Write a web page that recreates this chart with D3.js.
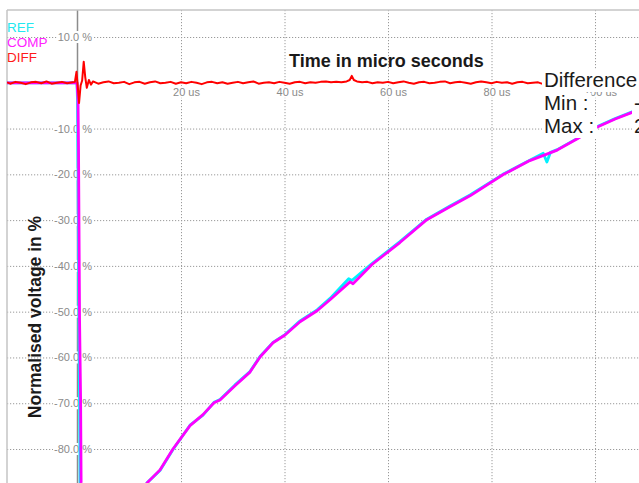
<!DOCTYPE html>
<html>
<head>
<meta charset="utf-8">
<script src="https://cdn.jsdelivr.net/npm/d3@7"></script>
<style>
  html, body { margin: 0; padding: 0; background: #fff; }
  svg { display: block; font-family: "Liberation Sans", Arial, sans-serif; }
</style>
</head>
<body>
<svg id="chart" width="639" height="483"></svg>
<script>
// ---------------- data ----------------
const xTicks = [20, 40, 60, 80, 100];
const xTickLabels = ["20 us", "40 us", "60 us", "80 us", "100 us"];
const yTicks = [10, -10, -20, -30, -40, -50, -60, -70, -80];
const yTickLabels = ["10.0 %", "-10.0 %", "-20.0 %", "-30.0 %", "-40.0 %", "-50.0 %", "-60.0 %", "-70.0 %", "-80.0 %"];

const seriesNames = ["REF", "COMP", "DIFF"];
const seriesColors = ["#22e8f0", "#ff22ff", "#ff1a1a"];

const compTime  = [-13.6, -0.1, 0.1, 0.2, 0.4, 0.6, 0.7, 1.5, 5, 10, 12.5, 13.43, 15.94, 18.45, 21.74, 24.25, 26.38, 27.54, 30.43, 33.33, 35.27, 37.78, 40.1, 43.0, 46.3, 48.8, 52.66, 53.24, 56.9, 62.3, 67.5, 71.97, 75.85, 82.2, 87.4, 92.7, 96.5, 99.6, 103.9, 107.3, 108.6];
const compValue = [0, 0, -3.7, -14.7, -51.9, -69.0, -87.4, -95, -100, -98, -90, -87.4, -84.6, -80.0, -74.9, -72.5, -69.9, -69.3, -66.2, -63.2, -59.9, -56.8, -55.1, -52.2, -49.8, -47.4, -43.5, -43.9, -39.7, -34.9, -29.9, -27.1, -24.7, -20.1, -17.0, -14.7, -12.3, -10.1, -7.9, -6.4, -5.8];

const refTime  = [-13.6, -0.1, 0.0, 0.1, 0.25, 0.4, 0.5, 1.5, 5, 10, 12.5, 13.43, 15.94, 18.45, 21.74, 24.25, 26.38, 27.54, 30.43, 33.33, 35.27, 37.78, 40.1, 43.0, 46.3, 48.8, 52.4, 53.0, 56.9, 62.3, 67.5, 71.97, 75.85, 82.2, 87.4, 90.0, 90.7, 91.4, 92.7, 96.5, 99.6, 103.9, 107.3, 108.6];
const refValue = [0, 0, -4.0, -20.0, -50.0, -70.0, -87.4, -95, -100, -98, -90, -87.4, -84.7, -80.1, -74.8, -72.6, -69.8, -69.2, -66.0, -63.1, -59.8, -56.7, -55.0, -52.0, -49.6, -47.1, -42.8, -43.2, -39.5, -34.7, -29.8, -26.9, -24.5, -20.0, -16.9, -15.4, -17.3, -15.2, -14.6, -12.2, -10.0, -7.8, -6.3, -5.7];

const diffTime = [-13.6, -13, -12, -11, -10, -9, -8, -7, -6, -5, -4, -3, -2, -1,
  -0.5, -0.2, 0.05, 0.3, 0.6, 0.9, 1.2, 1.5, 1.8, 2.2, 2.6, 3.0,
  4, 5, 6, 7, 8, 9, 10, 11, 12, 13, 14, 15, 16, 17, 18, 19, 20, 21, 22, 23, 24, 25, 26, 27, 28, 29,
  30, 31, 32, 33, 34, 35, 36, 37, 38, 39, 40, 41, 42, 43, 44, 45, 46, 47, 48, 49, 50, 51, 52,
  52.6, 53.0, 53.4, 54, 55, 56, 57, 58, 59, 60, 61, 62, 63, 64, 65, 66, 67, 68, 69, 70, 71, 72, 73, 74,
  75, 76, 77, 78, 79, 80, 81, 82, 83, 84, 85, 86, 87, 88, 89, 90, 91, 92, 93, 94, 95];
const diffValue = [0.1, -0.2, 0.2, 0.0, -0.3, 0.1, 0.2, -0.1, 0.3, -0.2, 0.0, 0.2, -0.1, 0.1,
  0.2, 2.4, -0.8, -4.4, -0.6, 0.5, 4.6, 1.2, -1.1, 0.6, -0.4, 0.3,
  -0.2, 0.1, 0.3, -0.1, 0.0, 0.2, -0.3, 0.1, 0.2, -0.2, 0.1, 0.3, -0.1, 0.0, 0.2, -0.2, 0.1, -0.1, 0.2, 0.0, -0.3, 0.1, 0.2, -0.1, 0.1, -0.2,
  0.0, 0.2, -0.1, 0.1, 0.3, -0.2, 0.0, 0.1, -0.1, 0.2, 0.0, -0.2, 0.1, 0.2, -0.1, 0.1, 0.0, 0.2, 0.3, 0.1, 0.2, 0.1, 0.3,
  0.6, 1.5, 0.6, 0.3, 0.1, 0.2, -0.1, 0.1, 0.0, 0.2, -0.1, 0.1, 0.3, 0.0, -0.2, 0.1, 0.2, -0.1, 0.0, 0.2, 0.3, -0.1, 0.1, 0.2,
  0.0, -0.2, 0.1, 0.3, 0.1, -0.1, 0.2, 0.0, 0.1, -0.2, 0.1, 0.2, -0.1, 0.0, 0.1, -0.3, 0.1, 0.0, 0.1, 0.0, 0.1];

const titleText = "Time in micro seconds";
const yTitleText = "Normalised voltage in %";
const boxLines = ["Difference", "Min :", "Max :"];
const boxValues = ["", "-4.4 %", "2.4 %"];

// ---------------- layout ----------------
const W = 639, H = 483;
const plotLeft = 7, plotTop = 10;
const svg = d3.select("#chart");
svg.append("rect").attr("width", W).attr("height", H).attr("fill", "#fff");

const x = d3.scaleLinear().domain([0, 100]).range([77.5, 595]);
const y = d3.scaleLinear().domain([10, -80]).range([37, 449]);

const FONT = '"Liberation Sans", Arial, sans-serif';

// horizontal dotted grid
const gy = svg.append("g").attr("transform", `translate(${plotLeft},0)`)
  .call(d3.axisLeft(y).tickValues(yTicks).tickSize(-(W - plotLeft)).tickFormat(""));
gy.select(".domain").remove();
gy.selectAll("line").attr("stroke", "#9a9a9a").attr("stroke-width", 1).attr("stroke-dasharray", "1.2,1.8");

// vertical dotted grid
const gx = svg.append("g").attr("transform", `translate(0,${plotTop})`)
  .call(d3.axisBottom(x).tickValues(xTicks).tickSize(H - plotTop).tickFormat(""));
gx.select(".domain").remove();
gx.selectAll("line").attr("stroke", "#9a9a9a").attr("stroke-width", 1).attr("stroke-dasharray", "1.2,1.8");

// y tick labels
const yl = svg.append("g").attr("transform", "translate(92,0)")
  .call(d3.axisLeft(y).tickValues(yTicks).tickSize(0).tickPadding(0)
    .tickFormat((d, i) => yTickLabels[i]));
yl.select(".domain").remove();
yl.selectAll("text").attr("font-size", 11).attr("font-family", FONT).attr("fill", "#8a8a8a");

// x tick labels
const xl = svg.append("g").attr("transform", "translate(0,88)")
  .call(d3.axisBottom(x).tickValues(xTicks).tickSize(0).tickPadding(0)
    .tickFormat((d, i) => xTickLabels[i]));
xl.select(".domain").remove();
xl.selectAll("text").attr("font-size", 11).attr("font-family", FONT).attr("fill", "#8a8a8a").attr("x", 5);

// white backgrounds behind tick labels
[yl, xl].forEach(g => {
  g.selectAll(".tick").each(function () {
    const t = d3.select(this).select("text");
    const b = t.node().getBBox();
    d3.select(this).insert("rect", "text")
      .attr("x", b.x - 1).attr("y", b.y).attr("width", b.width + 2).attr("height", b.height)
      .attr("fill", "#fff");
  });
});

// axis line
svg.append("line").attr("x1", x(0)).attr("x2", x(0)).attr("y1", plotTop).attr("y2", H)
  .attr("stroke", "#8c8c8c").attr("stroke-width", 1.5);
// border
svg.append("line").attr("x1", plotLeft).attr("x2", W).attr("y1", plotTop).attr("y2", plotTop)
  .attr("stroke", "#c4c4c4").attr("stroke-width", 1.5);
svg.append("line").attr("x1", plotLeft).attr("x2", plotLeft).attr("y1", plotTop).attr("y2", H)
  .attr("stroke", "#c4c4c4").attr("stroke-width", 1.5);

yl.raise(); xl.raise();

// data lines
const line = d3.line().x(d => x(d[0])).y(d => y(d[1]));
const clip = svg.append("clipPath").attr("id", "plotclip");
clip.append("rect").attr("x", plotLeft).attr("y", plotTop).attr("width", W - plotLeft).attr("height", H - plotTop);
const plot = svg.append("g").attr("clip-path", "url(#plotclip)");

plot.append("path").datum(refTime.map((t, i) => [t, refValue[i]]))
  .attr("d", line).attr("fill", "none").attr("stroke", "#00f0ff").attr("stroke-width", 2.8)
  .attr("stroke-linejoin", "round");
plot.append("path").datum(compTime.map((t, i) => [t, compValue[i]]))
  .attr("d", line).attr("fill", "none").attr("stroke", "#ff00ff").attr("stroke-width", 2.8)
  .attr("stroke-linejoin", "round");
plot.append("path").datum(diffTime.map((t, i) => [t, diffValue[i]]))
  .attr("d", line).attr("fill", "none").attr("stroke", "#ff0000").attr("stroke-width", 2)
  .attr("stroke-linejoin", "round");

// title
svg.append("text").attr("x", 289).attr("y", 67).attr("font-size", 18).attr("font-weight", "bold")
  .attr("font-family", FONT).attr("fill", "#1a1a1a").text(titleText);

// y title
svg.append("text").attr("transform", "translate(41,317) rotate(-90)")
  .attr("text-anchor", "middle").attr("font-size", 17.5).attr("font-weight", "bold")
  .attr("font-family", FONT).attr("fill", "#1a1a1a").text(yTitleText);

// legend
const legendY = [32, 47, 62];
seriesNames.forEach((n, i) => {
  svg.append("text").attr("x", 7).attr("y", legendY[i]).attr("font-size", 13.5)
    .attr("font-family", FONT).attr("fill", seriesColors[i]).text(n);
});

// difference box
const boxY = [87, 110, 133];
boxLines.forEach((s, i) => {
  const t = svg.append("text").attr("x", 544).attr("y", boxY[i]).attr("font-size", 20.5)
    .attr("font-family", FONT).attr("fill", "#1a1a1a").text(s);
  const b = t.node().getBBox();
  svg.insert("rect", () => t.node())
    .attr("x", b.x - 2).attr("y", b.y + 2).attr("width", (i === 0 ? W : b.x + b.width + 3) - (b.x - 2))
    .attr("height", b.height - 1).attr("fill", "#fff");
  if (boxValues[i]) {
    const v = svg.append("text").attr("x", 634).attr("y", boxY[i]).attr("font-size", 20.5)
      .attr("font-family", FONT).attr("fill", "#1a1a1a").text(boxValues[i]);
    const bv = v.node().getBBox();
    svg.insert("rect", () => v.node())
      .attr("x", bv.x - 2).attr("y", bv.y + 2).attr("width", bv.width + 4)
      .attr("height", bv.height - 1).attr("fill", "#fff");
  }
});
</script>
</body>
</html>
